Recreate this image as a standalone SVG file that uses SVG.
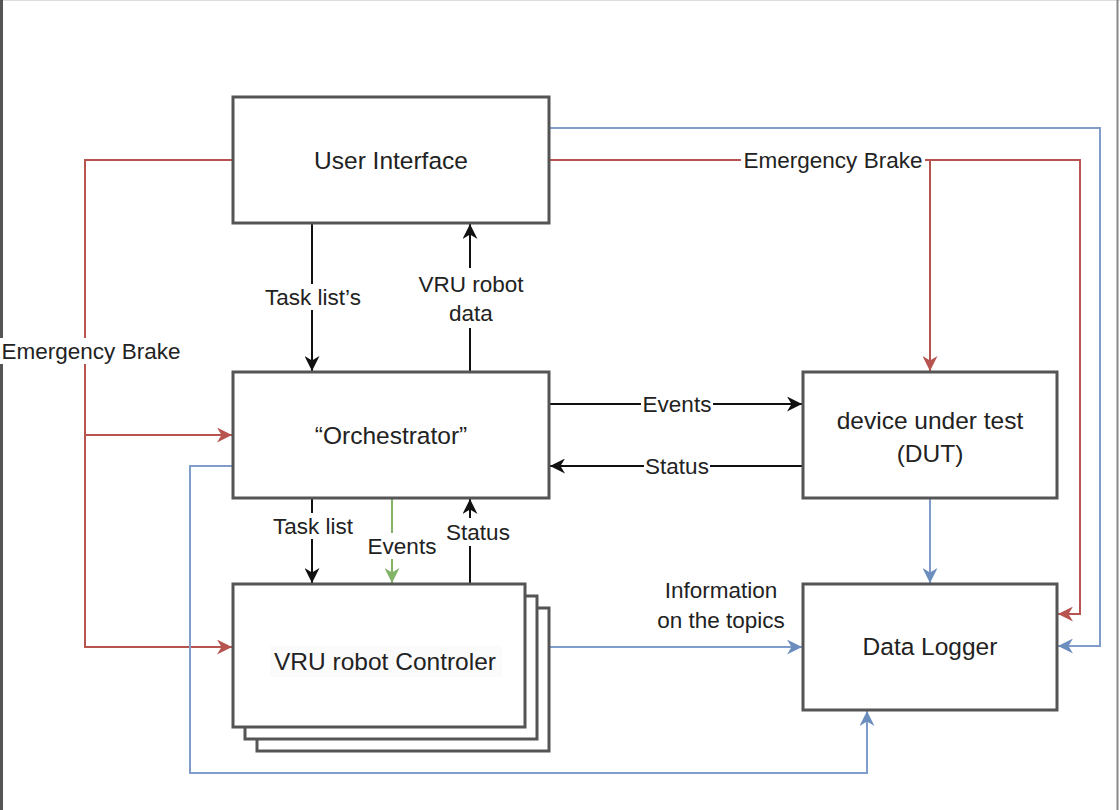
<svg xmlns="http://www.w3.org/2000/svg" width="1120" height="810" viewBox="0 0 1120 810">
<style>
.box{fill:#fff;stroke:#555;stroke-width:3}
.nt{font-family:"Liberation Sans",Arial,sans-serif;font-size:24.5px;fill:#222;text-anchor:middle;dominant-baseline:central}
.lt{font-family:"Liberation Sans",Arial,sans-serif;font-size:22.5px;fill:#222;text-anchor:middle;dominant-baseline:central}
.bg{fill:#fff}
.k{fill:none;stroke:#111;stroke-width:2}
.r{fill:none;stroke:#b85450;stroke-width:2}
.b{fill:none;stroke:#7f9ccb;stroke-width:2}
.g{fill:none;stroke:#82b366;stroke-width:2}
</style>
<defs>
<marker id="ak" viewBox="0 0 15 15" refX="15" refY="7.5" markerWidth="15" markerHeight="15" markerUnits="userSpaceOnUse" orient="auto"><path d="M0,0 L15,7.5 L0,15 L4.5,7.5 Z" fill="#111"/></marker>
<marker id="ar" viewBox="0 0 15 15" refX="15" refY="7.5" markerWidth="15" markerHeight="15" markerUnits="userSpaceOnUse" orient="auto"><path d="M0,0 L15,7.5 L0,15 L4.5,7.5 Z" fill="#b85450"/></marker>
<marker id="ab" viewBox="0 0 15 15" refX="15" refY="7.5" markerWidth="15" markerHeight="15" markerUnits="userSpaceOnUse" orient="auto"><path d="M0,0 L15,7.5 L0,15 L4.5,7.5 Z" fill="#6c8ebf"/></marker>
<marker id="ag" viewBox="0 0 15 15" refX="15" refY="7.5" markerWidth="15" markerHeight="15" markerUnits="userSpaceOnUse" orient="auto"><path d="M0,0 L15,7.5 L0,15 L4.5,7.5 Z" fill="#82b366"/></marker>
</defs>
<rect x="0" y="0" width="1120" height="810" fill="#fff"/>
<line x1="0" y1="0.5" x2="1120" y2="0.5" stroke="#ddd" stroke-width="1"/>
<line x1="1.5" y1="0" x2="1.5" y2="810" stroke="#555" stroke-width="3"/>
<line x1="1117.5" y1="0" x2="1117.5" y2="810" stroke="#888" stroke-width="2"/>

<g id="connectors">
  <path class="b" d="M549,128 H1100 V646 H1058" marker-end="url(#ab)"/>
  <path class="r" d="M549,160 H1080 V614 H1058" marker-end="url(#ar)"/>
  <path class="r" d="M930,160 V371" marker-end="url(#ar)"/>
  <rect class="bg" x="741" y="147" width="184" height="26"/>
  <text class="lt" x="833" y="160">Emergency Brake</text>

  <path class="r" d="M233,160 H85 V647 H232" marker-end="url(#ar)"/>
  <path class="r" d="M85,435 H232" marker-end="url(#ar)"/>
  <rect class="bg" x="0" y="338" width="184" height="26"/>
  <text class="lt" x="91" y="351">Emergency Brake</text>

  <path class="k" d="M312,223 V371" marker-end="url(#ak)"/>
  <rect class="bg" x="262" y="284" width="102" height="26"/>
  <text class="lt" x="313" y="297">Task list’s</text>

  <path class="k" d="M470,372 V224" marker-end="url(#ak)"/>
  <rect class="bg" x="414" y="268" width="114" height="60"/>
  <text class="lt" x="471" y="284">VRU robot</text>
  <text class="lt" x="471" y="313">data</text>

  <path class="k" d="M549,404 H802" marker-end="url(#ak)"/>
  <rect class="bg" x="641" y="391" width="72" height="26"/>
  <text class="lt" x="677" y="404">Events</text>

  <path class="k" d="M803,466 H550" marker-end="url(#ak)"/>
  <rect class="bg" x="644" y="453" width="66" height="26"/>
  <text class="lt" x="677" y="466">Status</text>

  <path class="k" d="M312,498 V583" marker-end="url(#ak)"/>
  <rect class="bg" x="270" y="513" width="86" height="26"/>
  <text class="lt" x="313" y="526">Task list</text>

  <path class="g" d="M392,498 V583" marker-end="url(#ag)"/>
  <rect class="bg" x="366" y="533" width="72" height="26"/>
  <text class="lt" x="402" y="546">Events</text>

  <path class="k" d="M470,584 V499" marker-end="url(#ak)"/>
  <rect class="bg" x="444" y="518" width="68" height="28"/>
  <text class="lt" x="478" y="532">Status</text>

  <path class="b" d="M930,498 V583" marker-end="url(#ab)"/>
  <path class="b" d="M549,647 H802" marker-end="url(#ab)"/>
  <text class="lt" x="721" y="590">Information</text>
  <text class="lt" x="721" y="620">on the topics</text>

  <path class="b" d="M233,466 H190 V773 H867 V711" marker-end="url(#ab)"/>
</g>

<g id="user-interface">
  <rect class="box" x="233" y="97" width="316" height="126"/>
  <text class="nt" x="391" y="160">User Interface</text>
</g>
<g id="orchestrator">
  <rect class="box" x="233" y="372" width="316" height="126"/>
  <text class="nt" x="391" y="435">“Orchestrator”</text>
</g>
<g id="dut">
  <rect class="box" x="803" y="372" width="254" height="126"/>
  <text class="nt" x="930" y="420">device under test</text>
  <text class="nt" x="930" y="453">(DUT)</text>
</g>
<g id="data-logger">
  <rect class="box" x="803" y="584" width="254" height="126"/>
  <text class="nt" x="930" y="646">Data Logger</text>
</g>
<g id="vru-robot-controler">
  <rect class="box" x="257" y="608" width="292" height="143"/>
  <rect class="box" x="245" y="596" width="292" height="143"/>
  <rect class="box" x="233" y="584" width="292" height="143"/>
  <rect x="270" y="646" width="232" height="31" fill="#fbfbfc"/>
  <text class="nt" x="385" y="661">VRU robot Controler</text>
</g>
</svg>
